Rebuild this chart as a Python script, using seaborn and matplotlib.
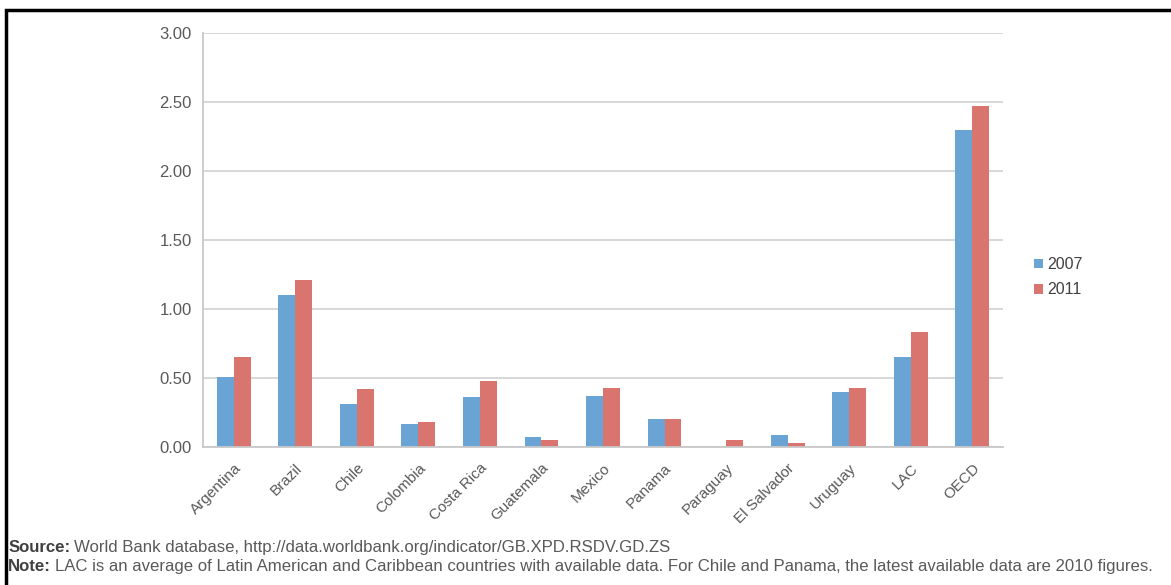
# %% Requirements and constants
import numpy as np
import pandas as pd
import seaborn as sns
import matplotlib.pyplot as plt
from matplotlib.patches import Rectangle

countries = ['Argentina', 'Brazil', 'Chile', 'Colombia', 'Costa Rica', 'Guatemala',
             'Mexico', 'Panama', 'Paraguay', 'El Salvador', 'Uruguay', 'LAC', 'OECD']
v2007 = [0.51, 1.10, 0.31, 0.17, 0.36, 0.07, 0.37, 0.20, 0.0, 0.09, 0.40, 0.65, 2.30]
v2011 = [0.65, 1.21, 0.42, 0.18, 0.48, 0.05, 0.43, 0.20, 0.05, 0.03, 0.43, 0.83, 2.47]
years = ['2007', '2011']
colors = ['#6aa4d4', '#d9756e']
y_ticks = [0.0, 0.5, 1.0, 1.5, 2.0, 2.5, 3.0]

source_txt = 'World Bank database, http://data.worldbank.org/indicator/GB.XPD.RSDV.GD.ZS'
note_txt = ('LAC is an average of Latin American and Caribbean countries with available data. '
            'For Chile and Panama, the latest available data are 2010 figures.')

# %% Build data
df = pd.DataFrame({
    'country': countries * 2,
    'year': [years[0]] * len(countries) + [years[1]] * len(countries),
    'value': v2007 + v2011,
})

# %% Plot
sns.set_style('white')
plt.rcParams['font.family'] = ['Liberation Sans', 'DejaVu Sans']

fig = plt.figure(figsize=(11.71, 5.85), dpi=100)
ax = fig.add_axes([0.1734, 0.2359, 0.6831, 0.7077])

sns.barplot(data=df, x='country', y='value', hue='year', palette=colors,
            width=0.55, gap=0, saturation=1, linewidth=0, ax=ax)

gray = '#595959'
ax.set_ylim(0, 3.0)
ax.set_xlim(-0.5, len(countries) - 0.5)
ax.set_yticks(y_ticks)
ax.set_yticklabels([f'{t:.2f}' for t in y_ticks], color=gray, fontsize=12)
ax.yaxis.grid(True, color='#d4d4d4', linewidth=1.3)
ax.set_axisbelow(True)
ax.set_xlabel('')
ax.set_ylabel('')

ax.set_xticks(range(len(countries)))
ax.set_xticklabels(countries, rotation=45, ha='right', rotation_mode='anchor',
                   color=gray, fontsize=11)
ax.set_xticks(np.arange(-0.5, len(countries), 1.0), minor=True)
ax.tick_params(axis='x', which='major', length=0, pad=10)
ax.tick_params(axis='x', which='minor', length=4, color='#c8c8c8', width=1)
ax.tick_params(axis='y', length=4, color='#c8c8c8', width=1, pad=4)

for side in ['top', 'right']:
    ax.spines[side].set_visible(False)
for side in ['left', 'bottom']:
    ax.spines[side].set_color('#c8c8c8')
    ax.spines[side].set_linewidth(1.3)

leg = ax.legend(loc='center left', bbox_to_anchor=(0.871, 0.526),
                bbox_transform=fig.transFigure, frameon=False, fontsize=11.5,
                handlelength=0.55, handleheight=0.55, handletextpad=0.25,
                labelspacing=0.65)
for t in leg.get_texts():
    t.set_color('#404040')

# footnotes: bold label followed by regular text
renderer = fig.canvas.get_renderer()
for ypos, label, body in [(0.056, 'Source:', source_txt), (0.024, 'Note:', note_txt)]:
    lab = fig.text(0.007, ypos, label, fontsize=12.1, color='#404040', fontweight='bold')
    bb = lab.get_window_extent(renderer).transformed(fig.transFigure.inverted())
    fig.text(bb.x1 + 0.003, ypos, body, fontsize=12.1, color='#595959')

fig.add_artist(Rectangle((0.005, -0.1), 1.2, 1.083, transform=fig.transFigure,
                         fill=False, edgecolor='black', linewidth=2.5))

fig.savefig('out.png', dpi=100)
